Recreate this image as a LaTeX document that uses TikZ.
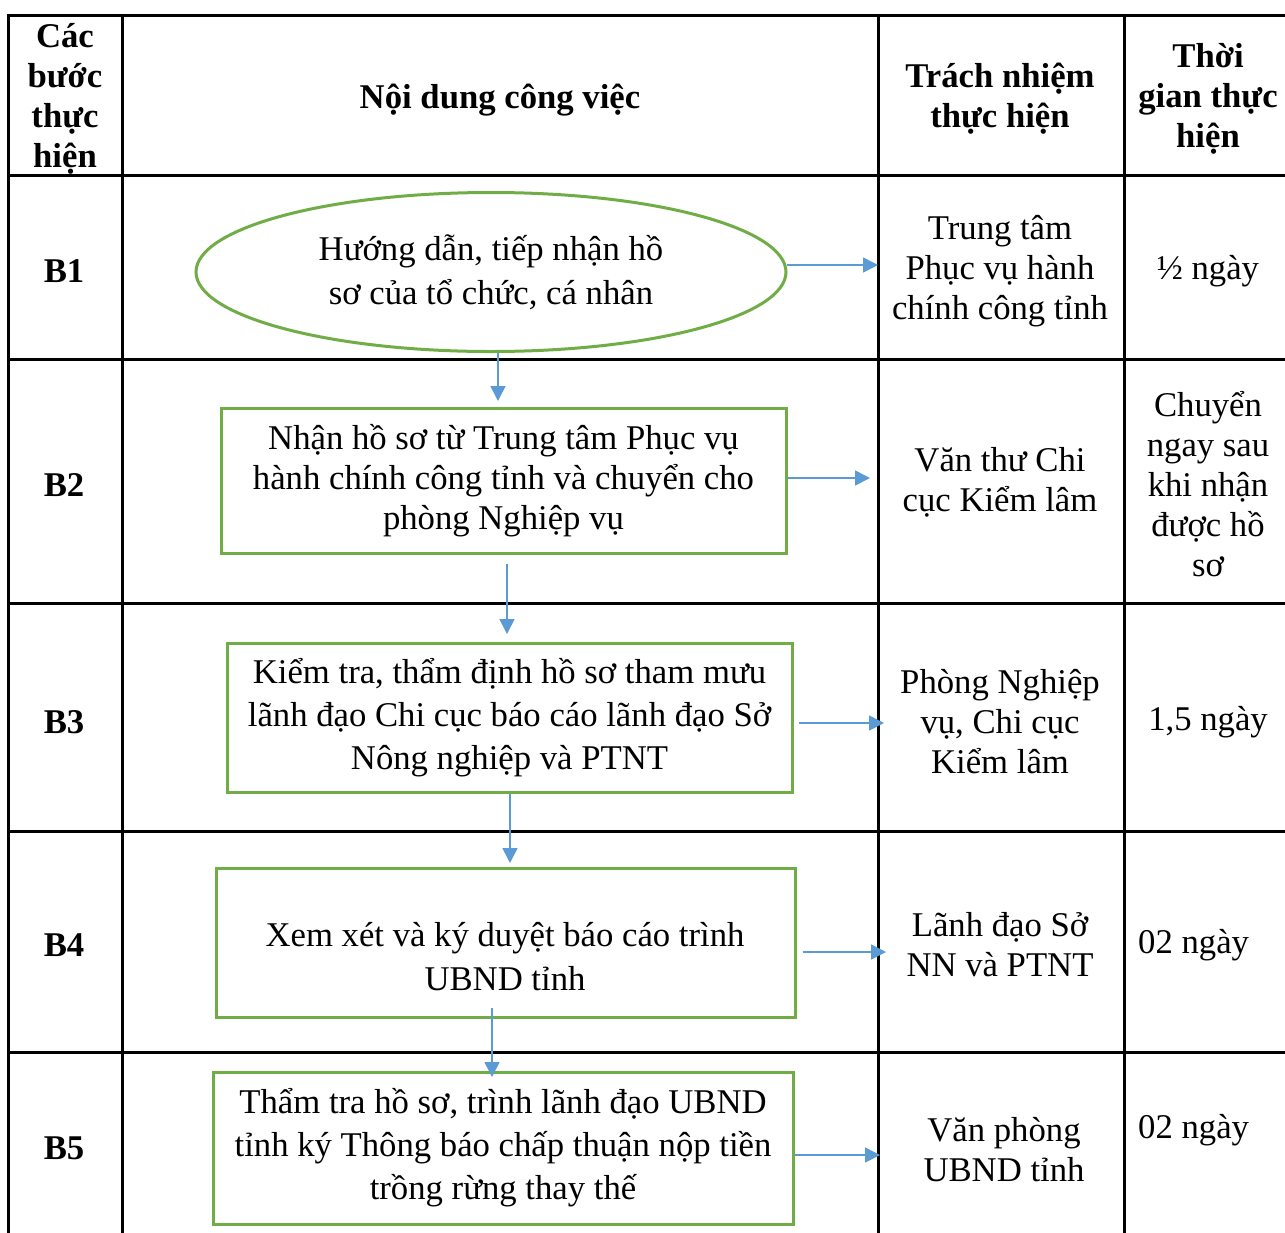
\documentclass[tikz,border=0pt]{standalone}
\usepackage{fontspec}
\setmainfont{Liberation Serif}
\usetikzlibrary{shapes.geometric,arrows.meta}
\definecolor{grn}{RGB}{112,173,71}
\definecolor{blu}{RGB}{91,155,213}
\newcommand\bodyf{\fontsize{34.7}{40}\selectfont}
\newcommand\bodyg{\fontsize{34.7}{43}\selectfont}
\newcommand\bodyh{\fontsize{34.7}{44}\selectfont}
\newcommand\hdf{\fontsize{34.7}{40}\selectfont\bfseries}
\begin{document}
\begin{tikzpicture}[x=1pt,y=-1pt,
  grid/.style={line width=3pt,black},
  gbox/.style={draw=grn,line width=3pt,rectangle,inner sep=0pt,align=center},
  arr/.style={draw=blu,line width=1.6pt,-{Triangle[length=15pt,width=15pt]}},
  txt/.style={align=center,font=\bodyf,inner sep=0pt,yshift=-3pt},
  hd/.style={align=center,font=\hdf,inner sep=0pt,yshift=-3pt}]
\useasboundingbox (0,0) rectangle (1285,1232);
\clip (0,0) rectangle (1285,1232);
\fill[white] (0,0) rectangle (1285,1232);
% table grid
\draw[grid] (1300,15) -- (8,15) -- (8,1250);
\foreach \x in {122,878,1124} \draw[grid] (\x,15) -- (\x,1250);
\foreach \y in {175,359,603,831,1052} \draw[grid] (8,\y) -- (1300,\y);
% headers
\node[hd] (h1) at (65,96) {Các\\bước\\thực\\hiện};
\node[hd] (h2) at (500,97) {Nội dung công việc};
\node[hd] (h3) at (1000,96) {Trách nhiệm\\thực hiện};
\node[hd] (h4) at (1208,96) {Thời\\gian thực\\hiện};
% step labels
\node[hd] (s1) at (64,268) {B1};
\node[hd] (s2) at (64,482) {B2};
\node[hd] (s3) at (64,719) {B3};
\node[hd] (s4) at (64,942) {B4};
\node[hd] (s5) at (64,1145) {B5};
% flow shapes
\node[draw=grn,line width=3pt,ellipse,minimum width=590pt,minimum height=159pt,inner sep=0pt,align=center,font=\bodyh] (ell) at (491,272) {Hướng dẫn, tiếp nhận hồ\\sơ của tổ chức, cá nhân};
\node[gbox,font=\bodyf,minimum width=565pt,minimum height=145pt] (b2) at (503.5,480.5) {Nhận hồ sơ từ Trung tâm Phục vụ\\hành chính công tỉnh và chuyển cho\\phòng Nghiệp vụ};
\node[gbox,font=\bodyg,minimum width=565pt,minimum height=149pt] (b3) at (509.5,717.5) {Kiểm tra, thẩm định hồ sơ tham mưu\\lãnh đạo Chi cục báo cáo lãnh đạo Sở\\Nông nghiệp và PTNT};
\node[gbox,minimum width=579pt,minimum height=149pt] (b4) at (505.5,942.5) {};
\node[txt,font=\bodyh] (b4t) at (505,954) {Xem xét và ký duyệt báo cáo trình\\UBND tỉnh};
\node[gbox,font=\bodyg,minimum width=580pt,minimum height=152pt] (b5) at (503,1148) {Thẩm tra hồ sơ, trình lãnh đạo UBND\\tỉnh ký Thông báo chấp thuận nộp tiền\\trồng rừng thay thế};
% responsibility
\node[txt] (r1) at (1000,268) {Trung tâm\\Phục vụ hành\\chính công tỉnh};
\node[txt] (r2) at (1000,479) {Văn thư Chi\\cục Kiểm lâm};
\node[txt] (r3) at (1000,719) {Phòng Nghiệp\\vụ, Chi cục\\Kiểm lâm};
\node[txt] (r4) at (1000,942) {Lãnh đạo Sở\\NN và PTNT};
\node[txt] (r5) at (1004,1147) {Văn phòng\\UBND tỉnh};
% time
\node[txt] (t1n) at (1208,268) {½ ngày};
\node[txt] (t2n) at (1208,481) {Chuyển\\ngay sau\\khi nhận\\được hồ\\sơ};
\node[txt] (t3n) at (1208,719) {1,5 ngày};
\node[txt,anchor=west] (t4n) at (1138,942) {02 ngày};
\node[txt,anchor=west] (t5n) at (1138,1127) {02 ngày};
% arrow ends
\coordinate (e1) at (878,265);
\coordinate (e2) at (870,478);
\coordinate (e3) at (884,723);
\coordinate (e4) at (886,952);
\coordinate (e5) at (880,1155);
\coordinate (d1) at (498,401);
\coordinate (d2) at (507,634);
\coordinate (d3) at (510,863);
\coordinate (d4) at (492,1077);
% horizontal arrows
\draw[arr] (ell.east |- e1) ++(-1,0) -- (e1);
\draw[arr] (b2.east |- e2) -- (e2);
\draw[arr] (b3.east |- e3) ++(5,0) -- (e3);
\draw[arr] (b4.east |- e4) ++(6,0) -- (e4);
\draw[arr] (b5.east |- e5) -- (e5);
% vertical arrows
\draw[arr] (ell.south -| d1) -- (d1);
\draw[arr] (b2.south -| d2) ++(0,9) -- (d2);
\draw[arr] (b3.south -| d3) -- (d3);
\draw[arr] (b4.south -| d4) ++(0,-11) -- (d4);
\end{tikzpicture}
\end{document}
